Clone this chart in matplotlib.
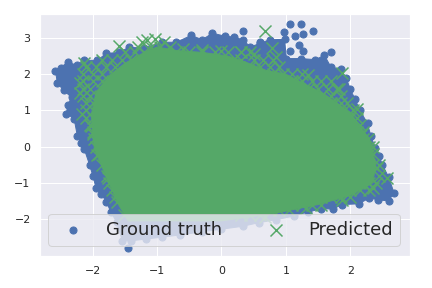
import matplotlib
matplotlib.use("Agg")
import matplotlib.pyplot as plt
import seaborn as sns

# outline of the ground truth cloud
truth_x = [-2.58, -2.5, -2.39, -2.25, -2.13, -1.93, -1.79, -1.6, -1.43, -1.2, -0.92, -0.7, -0.47, -0.3, -0.14, 0.05, 0.2, 0.33, 0.45, 0.6, 0.75,
           0.98, 1.01, 1.23, 1.46, 1.6, 1.7, 1.85, 1.94, 2.0, 2.08, 2.15, 2.27, 2.32, 2.39, 2.45, 2.5, 2.6, 2.68, 2.6, 2.44, 2.3, 2.13, 1.88, 1.73,
           1.55, 1.35, 1.12, 0.84, 0.58, 0.33, 0.0, -0.3, -0.65, -0.92, -1.17, -1.4, -1.54, -1.63, -1.72, -1.79, -1.87, -1.95, -2.0, -2.05,
           -2.13, -2.18, -2.24, -2.29, -2.41, -2.39, -2.33, -2.45, -2.55]
truth_y = [2.1, 2.18, 2.33, 2.25, 2.38, 2.38, 2.57, 2.6, 2.74, 2.72, 2.88, 2.88, 3.07, 2.95, 3.13, 3.05, 3.02, 2.95, 2.75, 2.85, 2.95,
           2.96, 2.43, 2.43, 2.4, 2.52, 2.2, 2.13, 1.9, 1.58, 1.3, 1.0, 0.64, 0.3, -0.03, -0.25, -0.5, -0.85, -1.27, -1.5, -1.47, -1.42, -1.58, -1.6, -1.72,
           -1.72, -1.8, -1.92, -2.02, -2.1, -2.2, -2.28, -2.35, -2.44, -2.5, -2.55, -2.6, -2.6, -2.08, -1.8, -1.52, -1.3, -1.13, -0.8, -0.5,
           -0.08, 0.1, 0.3, 0.77, 0.91, 1.14, 1.36, 1.55, 1.75]

# stray points above the cloud
stray_x = [0.33, 1.07, 1.24, 0.97, 1.14, 1.26, 1.43, 1.2, 1.07, 1.26, 1.71, 0.6, 0.85, 1.35, 1.55, 1.1, 1.75, 1.9, -1.46]
stray_y = [3.2, 3.38, 3.38, 3.15, 3.04, 3.12, 3.2, 2.8, 2.65, 2.65, 2.6, 2.9, 2.75, 2.2, 2.1, 2.25, 1.9, 1.65, -2.8]

# outermost predicted crosses
pred_x = [-2.13, -1.59, -1.24, -1.15, -1.04, -0.89, -2.2, -2.2, -2.16, -2.02, -2.0, 0.68, 0.79, 0.84, 1.35, 1.87, 1.82, 2.1, 2.19, 2.58, 2.35, 1.88, 1.31, 0.68,
          -1.93, -1.77, -1.63, -1.51, -0.6, -0.3, 0.0, 0.3, 0.5, 2.3, 2.42, 2.2]
pred_y = [2.3, 2.77, 2.88, 2.94, 2.96, 2.88, 1.75, 1.47, 0.91, 0.58, 0.36, 3.2, 2.71, 2.47, 1.97, 2.02, 1.6, 1.05, 0.36, -0.86, -1.14, -1.47, -1.69, -1.94,
          -0.22, -0.86, -1.52, -1.88, 2.7, 2.68, 2.65, 2.62, 2.55, -0.2, -0.6, -1.0]

# crosses in the band between the outermost ones and the solid part
band_x = [-2.1, -1.95, -1.8, -1.65, 0.45, 0.6, 0.75, 0.9,
          -2.15, -2.0, -1.85, 0.8, 0.95, 1.1, 1.25,
          -2.15, -2.0, -1.85, 0.95, 1.1, 1.25, 1.4, 1.55, 1.7,
          -2.15, -2.05, 1.2, 1.35, 1.5, 1.65, 1.8,
          -2.15, -2.05, 1.4, 1.55, 1.7, 1.85,
          -2.1, -2.0, 1.55, 1.7, 1.85, 1.95,
          -2.1, 1.75, 1.9, 2.05,
          -2.1, -2.0, 1.85, 2.0, 2.1,
          -2.05, 2.0, 2.15,
          -2.0, 2.1, 2.2,
          -1.98, 2.2, 2.28,
          -1.95, 2.3, 2.35,
          -1.9, 2.35,
          -1.85, 2.35, 2.45,
          -1.78, 2.3, 2.45,
          -1.75, 2.15, 2.3, 2.4,
          -1.7, 2.0, 2.15, 2.3,
          -1.65, 1.55, 1.7, 1.85, 2.0,
          1.1, 1.25, 1.4, 1.55,
          0.75, 0.9, 1.05,
          0.3, 0.45, 0.6,
          -1.85, -1.7, -1.55, -1.4, 0.3, 0.5, 0.65, 0.8,
          -1.5, -1.35, -1.2, -0.9, -0.7, -0.5, -0.3, -0.1, 0.1, 0.3, 0.45,
          -1.3, -1.1, -0.95, -0.8]
band_y = [2.2, 2.2, 2.2, 2.2, 2.2, 2.2, 2.2, 2.2,
          2.0, 2.0, 2.0, 2.0, 2.0, 2.0, 2.0,
          1.8, 1.8, 1.8, 1.8, 1.8, 1.8, 1.8, 1.8, 1.8,
          1.6, 1.6, 1.6, 1.6, 1.6, 1.6, 1.6,
          1.4, 1.4, 1.4, 1.4, 1.4, 1.4,
          1.2, 1.2, 1.2, 1.2, 1.2, 1.2,
          1.0, 1.0, 1.0, 1.0,
          0.8, 0.8, 0.8, 0.8, 0.8,
          0.6, 0.6, 0.6,
          0.4, 0.4, 0.4,
          0.2, 0.2, 0.2,
          0.0, 0.0, 0.0,
          -0.2, -0.2,
          -0.5, -0.5, -0.5,
          -0.8, -0.8, -0.8,
          -1.0, -1.0, -1.0, -1.0,
          -1.2, -1.2, -1.2, -1.2,
          -1.4, -1.4, -1.4, -1.4, -1.4,
          -1.6, -1.6, -1.6, -1.6,
          -1.75, -1.75, -1.75,
          -1.9, -1.9, -1.9,
          2.4, 2.4, 2.4, 2.4, 2.4, 2.4, 2.4, 2.4,
          2.6, 2.6, 2.6, 2.6, 2.6, 2.6, 2.6, 2.6, 2.6, 2.6, 2.6,
          2.75, 2.75, 2.75, 2.75]

# solid part of the predicted cloud
core_x = [-2.0, -2.02, -1.95, -1.75, -1.5, -1.2, -1.0, -0.7, -0.3, 0.1, 0.35, 0.7, 1.0, 1.6, 2.0, 2.3, 2.4, 2.35, 2.0, 1.5, 0.8, 0.0, -1.45, -1.6, -1.75, -1.87, -1.97]
core_y = [0.3, 0.9, 1.5, 1.95, 2.3, 2.6, 2.75, 2.65, 2.6, 2.5, 2.35, 2.1, 2.0, 1.45, 0.95, 0.2, -0.5, -1.0, -1.35, -1.6, -1.85, -2.05, -2.05, -1.6, -1.0, -0.5, -0.1]

x_ticks = [-2, -1, 0, 1, 2]
y_ticks = [-2, -1, 0, 1, 2, 3]

sns.set()
fig, ax = plt.subplots(figsize=(6, 4), dpi=72)

ax.fill(truth_x, truth_y, color="#4C72B0", zorder=2)
ax.scatter(truth_x + stray_x, truth_y + stray_y, s=50, color="#4C72B0", zorder=2, label="Ground truth")
ax.fill(core_x, core_y, color="#55A868", zorder=3)
ax.scatter(pred_x + band_x, pred_y + band_y, color="#55A868", marker="x", s=144, zorder=3, label="Predicted")

ax.set_xlim(-2.82, 2.93)
ax.set_ylim(-3.02, 3.66)
ax.set_xticks(x_ticks)
ax.set_yticks(y_ticks)
ax.legend(loc="lower center", bbox_to_anchor=(0.497, 0.004), ncol=2, fontsize=18)

fig.subplots_adjust(left=40 / 432, right=410 / 432, top=1 - 14 / 288, bottom=1 - 256 / 288)
plt.savefig("out.png", dpi=72)
